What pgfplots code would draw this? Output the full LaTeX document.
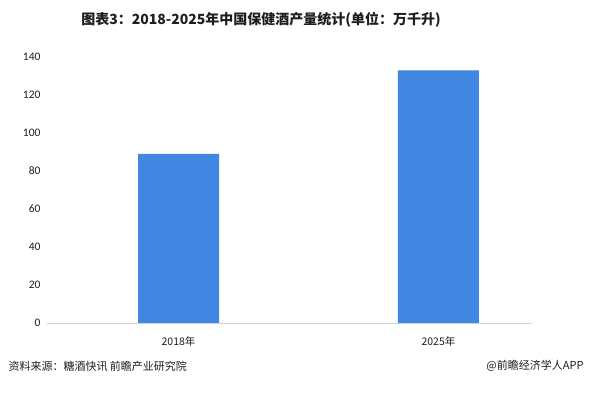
\documentclass[border=0pt]{standalone}
\usepackage{pgfplots}
\pgfplotsset{compat=1.18}
\usepackage{fontspec}
\setmainfont{Carlito}
\newfontfamily\cjk{Noto Sans CJK SC}
\definecolor{barblue}{RGB}{65,134,224}
\definecolor{axgray}{RGB}{210,210,210}
\definecolor{txt}{RGB}{30,30,30}
\begin{document}
\begin{tikzpicture}[x=1pt,y=1pt]
\path[fill=white] (0,0) rectangle (589,396);
\begin{axis}[
  at={(47pt,73pt)}, anchor=south west,
  scale only axis, width=485pt, height=266pt,
  xmin=-0.506, xmax=1.36, ymin=0, ymax=140,
  ytick={0,20,...,140},
  xtick={0,1}, xticklabels={2018年,2025年},
  x tick label style={font=\cjk\fontsize{10.5}{12}\selectfont, text=txt, yshift=-6pt},
  y tick label style={font=\fontsize{11.5}{13}\selectfont, text=txt, xshift=-3pt},
  /pgf/number format/assume math mode=true,
  axis x line*=bottom, axis y line*=left,
  x axis line style={draw=axgray, line width=0.8pt, -},
  y axis line style={draw=none},
  major tick style={draw=none},
  ybar, bar width=81pt,
  clip=false,
]
\addplot[fill=barblue, draw=none] coordinates {(0,89) (1,133)};
\end{axis}
\node[font=\cjk\bfseries\fontsize{14}{17}\selectfont, text=txt] at (261,376) {图表3：2018-2025年中国保健酒产量统计(单位：万千升)};
\node[font=\cjk\fontsize{11}{13}\selectfont, text=txt, anchor=west] at (5,30) {资料来源：糖酒快讯 前瞻产业研究院};
\node[font=\cjk\fontsize{11}{13}\selectfont, text=txt, anchor=east] at (587,30) {@前瞻经济学人APP};
\end{tikzpicture}
\end{document}
